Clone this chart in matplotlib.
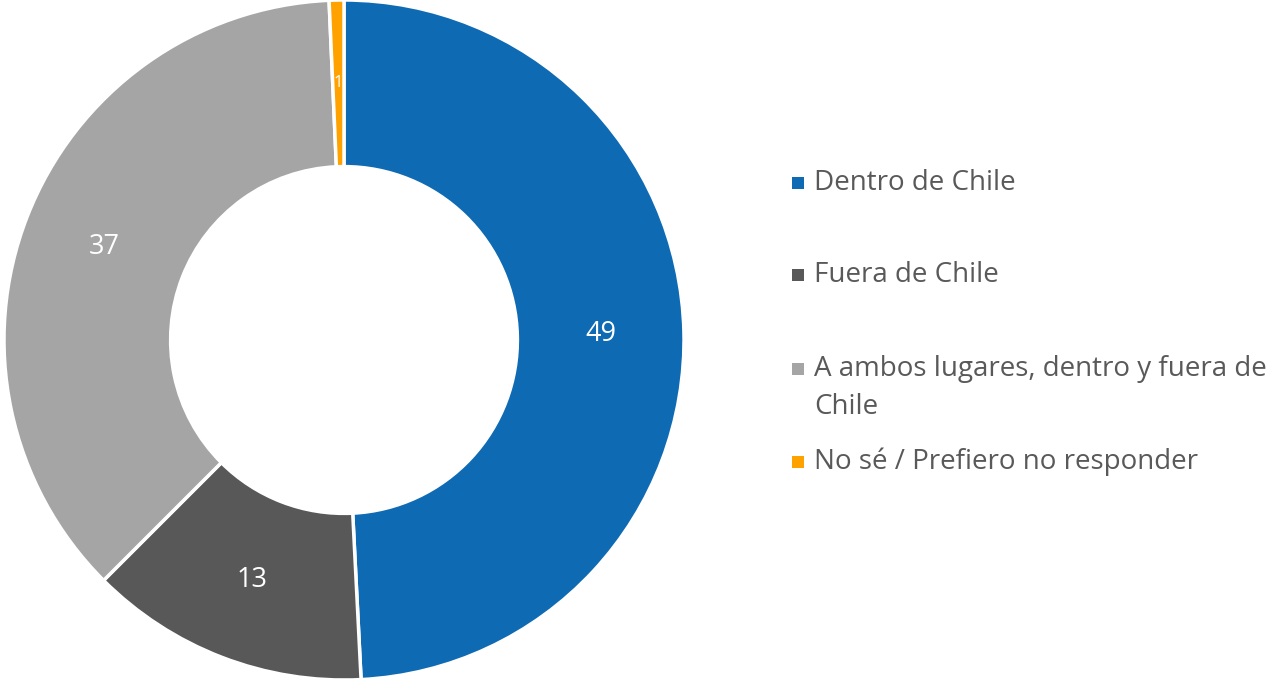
import matplotlib
matplotlib.use("Agg")
import matplotlib.pyplot as plt
from matplotlib.patches import Rectangle
import numpy as np

# shares (labels show the rounded values)
categories = ["Dentro de Chile", "Fuera de Chile",
              "A ambos lugares, dentro y fuera de\nChile",
              "No sé / Prefiero no responder"]
values = [49.2, 13.3, 36.8, 0.7]
value_labels = ["49", "13", "37", "1"]
colors = ["#0F6AB4", "#585858", "#A5A5A5", "#FFA200"]

W, H = 1269, 680
fig = plt.figure(figsize=(W / 100, H / 100), dpi=100)
fig.patch.set_facecolor("white")

cx, cy, r = 344, 340, 340
ax = fig.add_axes([(cx - r) / W, (cy - r) / H, 2 * r / W, 2 * r / H])
wedges, _ = ax.pie(values, colors=colors, startangle=90, counterclock=False,
                   radius=1.0,
                   wedgeprops=dict(width=0.49, edgecolor="white", linewidth=2.5))
ax.set_xlim(-1, 1)
ax.set_ylim(-1, 1)
ax.set_aspect("equal")
ax.axis("off")

# data labels in the middle of the ring
total = sum(values)
start = 90.0
for v, lab in zip(values, value_labels):
    mid = start - v / total * 360 / 2
    start -= v / total * 360
    rr = 0.755
    x, y = rr * np.cos(np.radians(mid)), rr * np.sin(np.radians(mid))
    fs = 19.5 if lab != "1" else 12
    ax.text(x, y, lab, color="white", ha="center", va="center", fontsize=fs,
            family="Open Sans")

# legend drawn by hand
leg_y = [183, 275, 388, 462]
for cat, col, y in zip(categories, colors, leg_y):
    sq_y = y if "\n" not in cat else y - 19
    fig.patches.append(Rectangle((792 / W, (H - sq_y - 6) / H), 12 / W, 12 / H,
                                 transform=fig.transFigure, facecolor=col,
                                 edgecolor="none"))
    fig.text(814 / W, (H - y) / H, cat, ha="left", va="center",
             fontsize=20, color="#595959", family="Open Sans",
             linespacing=1.5)

fig.savefig("out.png", dpi=100, facecolor="white")
